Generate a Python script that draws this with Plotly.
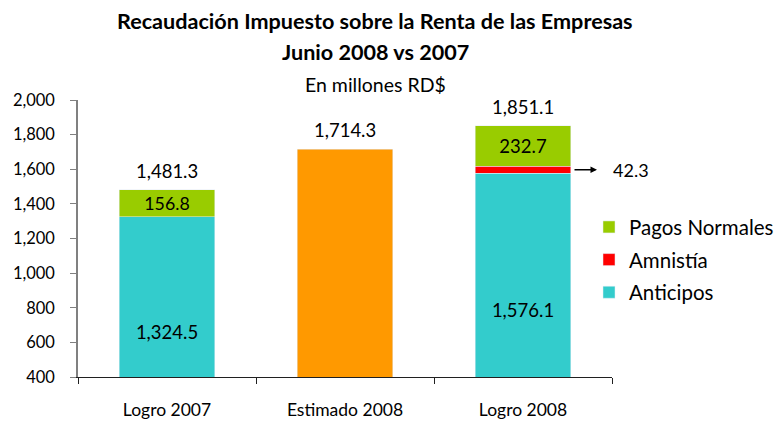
import plotly.graph_objects as go

categories = ["Logro 2007", "Estimado 2008", "Logro 2008"]
anticipos = [1324.5, None, 1576.1]
amnistia = [None, None, 42.3]
pagos_normales = [156.8, None, 232.7]
estimado = [None, 1714.3, None]
totals = [1481.3, 1714.3, 1851.1]

FONT = "Lato"
y_range = [400, 2000]

L, R, T, B = 78, 612, 99.5, 377.5
W, H = 775, 423
pw, ph = R - L, B - T

def fmt(v):
    return "" if v is None else f"{v:,.1f}"

fig = go.Figure()
lbl_font = dict(family=FONT, size=18.5, color="#000000")
fig.add_trace(go.Bar(
    x=categories, y=anticipos, name="Anticipos", marker_color="#33CCCC",
    text=[fmt(v) for v in anticipos], textposition="inside", insidetextanchor="middle",
    textfont=lbl_font, legendgroup="a", legendrank=3))
fig.add_trace(go.Bar(
    x=categories, y=amnistia, name="Amnistía", marker_color="#FF0000",
    legendgroup="b", legendrank=2))
fig.add_trace(go.Bar(
    x=categories, y=pagos_normales, name="Pagos Normales", marker_color="#99CC00",
    text=[fmt(v) for v in pagos_normales], textposition="inside", insidetextanchor="middle",
    textfont=lbl_font, legendgroup="c", legendrank=1))
fig.add_trace(go.Bar(
    x=categories, y=estimado, name="Estimado", marker_color="#FF9900",
    showlegend=False))

annotations = []
for c, t in zip(categories, totals):
    annotations.append(dict(x=c, y=t, xref="x", yref="y", text=fmt(t), showarrow=False,
                            yanchor="bottom", yshift=6, font=lbl_font))

# arrow pointing to the Amnistía value
amn_mid = anticipos[2] + amnistia[2] / 2
annotations.append(dict(x=(597 - L) / pw, y=amn_mid, xref="paper", yref="y", text="",
                        showarrow=True, ax=-24, ay=0, axref="pixel", ayref="pixel",
                        arrowhead=2, arrowsize=1, arrowwidth=1.3, arrowcolor="#000"))
annotations.append(dict(x=(611 - L) / pw, y=amn_mid, xref="paper", yref="y", text=fmt(amnistia[2]),
                        showarrow=False, xanchor="left", font=dict(family=FONT, size=18, color="#000")))

title_x = (375 - L) / pw
annotations += [
    dict(x=title_x, y=1, xref="paper", yref="paper", yshift=T - 20,
         text="<b>Recaudación Impuesto sobre la Renta de las Empresas</b>",
         showarrow=False, yanchor="middle", font=dict(family=FONT, size=21.6, color="#000")),
    dict(x=title_x, y=1, xref="paper", yref="paper", yshift=T - 51, text="<b>Junio 2008 vs 2007</b>",
         showarrow=False, yanchor="middle", font=dict(family=FONT, size=21.6, color="#000")),
    dict(x=title_x, y=1, xref="paper", yref="paper", yshift=T - 84, text="En millones RD$",
         showarrow=False, yanchor="middle", font=dict(family=FONT, size=19.5, color="#000")),
]

fig.update_layout(
    barmode="stack",
    bargap=0.466,
    width=W, height=H,
    margin=dict(l=L, r=W - R, t=T, b=H - B, autoexpand=False),
    paper_bgcolor="white", plot_bgcolor="white",
    font=dict(family=FONT, size=17, color="#000"),
    legend=dict(x=(589 - L) / pw, y=1 - (207 - T) / ph, xanchor="left", yanchor="top",
                traceorder="grouped", tracegroupgap=3,
                font=dict(family=FONT, size=20.5, color="#000"),
                bgcolor="rgba(0,0,0,0)"),
    annotations=annotations,
)
fig.update_xaxes(range=[-0.5, 2.5], showline=True, linecolor="#202020", linewidth=1,
                 ticks="outside", tickson="boundaries", ticklen=6, tickcolor="#202020",
                 ticklabelstandoff=17, tickfont=dict(family=FONT, size=17.5), showgrid=False)
fig.update_yaxes(range=y_range, dtick=200, tickformat=",.0f", showline=True, linecolor="#808080",
                 linewidth=1.5, ticks="outside", ticklen=6, tickcolor="#808080",
                 ticklabelstandoff=12, tickfont=dict(family=FONT, size=16.5), showgrid=False,
                 zeroline=False)

fig.write_html("out.html", config={"displayModeBar": False},
               post_script="document.body.style.margin='0';")
